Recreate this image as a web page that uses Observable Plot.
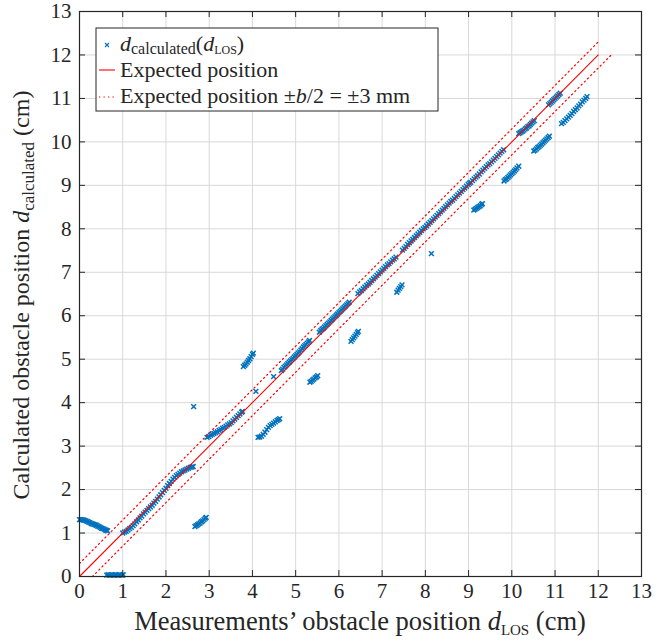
<!DOCTYPE html>
<html><head><meta charset="utf-8">
<script src="https://cdn.jsdelivr.net/npm/d3@7"></script>
<script src="https://cdn.jsdelivr.net/npm/@observablehq/plot@0.6"></script>
<style>
body{margin:0;background:#fff;}
#chart{width:670px;height:641px;}
</style></head><body><div id="chart"></div>
<script>
// ---- data (d_LOS, d_calculated) in cm ----
const leftTail = [[0.00,1.31],[0.03,1.31],[0.06,1.31],[0.09,1.30],[0.12,1.29],[0.15,1.28],[0.18,1.27],[0.21,1.25],[0.24,1.24],[0.27,1.22],[0.30,1.21],[0.33,1.20],[0.36,1.19],[0.39,1.18],[0.42,1.16],[0.45,1.15],[0.48,1.13],[0.51,1.11],[0.54,1.10],[0.57,1.09],[0.60,1.07],[0.63,1.06],[0.65,1.05]];
const zeroRun = [[0.63,0.03],[0.66,0.04],[0.69,0.03],[0.72,0.03],[0.75,0.04],[0.78,0.03],[0.81,0.03],[0.84,0.04],[0.87,0.03],[0.90,0.03],[0.93,0.04],[0.96,0.03],[0.99,0.03],[1.01,0.04]];
const run1 = [[1.00,1.00],[1.04,1.02],[1.08,1.04],[1.12,1.07],[1.16,1.10],[1.20,1.13],[1.24,1.17],[1.28,1.21],[1.32,1.26],[1.36,1.30],[1.40,1.35],[1.44,1.39],[1.48,1.44],[1.52,1.48],[1.56,1.52],[1.60,1.56],[1.64,1.60],[1.68,1.64],[1.72,1.69],[1.76,1.73],[1.80,1.78],[1.84,1.83],[1.88,1.88],[1.92,1.93],[1.96,1.98],[2.00,2.03],[2.04,2.09],[2.08,2.14],[2.12,2.19],[2.16,2.24],[2.20,2.28],[2.24,2.32],[2.28,2.35],[2.32,2.38],[2.36,2.41],[2.40,2.43],[2.44,2.45],[2.48,2.47],[2.52,2.49],[2.56,2.51],[2.60,2.52],[2.63,2.53]];
const off1 = [[2.67,1.15],[2.70,1.17],[2.73,1.19],[2.76,1.21],[2.79,1.23],[2.82,1.26],[2.85,1.28],[2.88,1.31],[2.91,1.34],[2.93,1.36]];
const single = [[2.64,3.91],[4.08,4.26],[4.49,4.60],[8.14,7.43]];
const run2 = [[2.95,3.20],[2.99,3.22],[3.03,3.25],[3.07,3.27],[3.11,3.29],[3.15,3.31],[3.19,3.33],[3.23,3.36],[3.27,3.38],[3.31,3.41],[3.35,3.43],[3.39,3.46],[3.43,3.49],[3.47,3.51],[3.51,3.54],[3.55,3.58],[3.59,3.62],[3.63,3.66],[3.67,3.70],[3.71,3.74],[3.75,3.78],[3.77,3.80]];
const off2 = [[3.79,4.83],[3.82,4.86],[3.85,4.89],[3.88,4.93],[3.91,4.97],[3.94,5.01],[3.97,5.06],[4.00,5.11],[4.02,5.14]];
const off3 = [[4.13,3.20],[4.17,3.21],[4.21,3.23],[4.25,3.27],[4.29,3.32],[4.33,3.38],[4.37,3.43],[4.41,3.47],[4.45,3.50],[4.49,3.53],[4.53,3.56],[4.57,3.59],[4.60,3.61],[4.63,3.63]];
const run3 = [[4.67,4.74],[4.70,4.77],[4.73,4.81],[4.76,4.84],[4.79,4.87],[4.82,4.90],[4.85,4.93],[4.88,4.96],[4.91,4.99],[4.94,5.02],[4.97,5.05],[5.00,5.08],[5.03,5.11],[5.06,5.14],[5.09,5.17],[5.12,5.21],[5.15,5.24],[5.18,5.28],[5.21,5.31],[5.24,5.34],[5.27,5.37],[5.30,5.40],[5.32,5.43]];
const off4 = [[5.33,4.47],[5.36,4.49],[5.39,4.52],[5.42,4.54],[5.45,4.57],[5.48,4.59],[5.51,4.62]];
const run4 = [[5.55,5.62],[5.58,5.66],[5.61,5.69],[5.64,5.71],[5.67,5.74],[5.70,5.77],[5.73,5.80],[5.76,5.83],[5.79,5.86],[5.82,5.89],[5.85,5.92],[5.88,5.95],[5.91,5.98],[5.94,6.01],[5.97,6.04],[6.00,6.07],[6.03,6.10],[6.06,6.13],[6.09,6.16],[6.12,6.19],[6.15,6.22],[6.18,6.25],[6.21,6.28],[6.24,6.31]];
const off5 = [[6.28,5.41],[6.31,5.45],[6.34,5.49],[6.37,5.53],[6.40,5.57],[6.43,5.61],[6.45,5.64]];
const run5 = [[6.44,6.51],[6.48,6.55],[6.52,6.58],[6.56,6.62],[6.60,6.66],[6.64,6.70],[6.68,6.73],[6.72,6.77],[6.76,6.81],[6.80,6.85],[6.84,6.89],[6.88,6.93],[6.92,6.97],[6.96,7.01],[7.00,7.05],[7.04,7.09],[7.08,7.13],[7.12,7.17],[7.16,7.20],[7.20,7.24],[7.24,7.28],[7.28,7.31],[7.32,7.35]];
const off6 = [[7.34,6.54],[7.37,6.59],[7.40,6.63],[7.43,6.67],[7.46,6.71]];
const run6 = [[7.47,7.51],[7.51,7.55],[7.55,7.59],[7.59,7.64],[7.63,7.68],[7.67,7.72],[7.71,7.76],[7.75,7.80],[7.79,7.84],[7.83,7.88],[7.87,7.92],[7.91,7.96],[7.95,8.00],[7.99,8.03],[8.03,8.07],[8.07,8.11],[8.11,8.15],[8.15,8.19],[8.19,8.23],[8.23,8.27],[8.27,8.31],[8.31,8.35],[8.35,8.39],[8.39,8.43],[8.43,8.47],[8.47,8.51],[8.51,8.55],[8.55,8.59],[8.59,8.63],[8.63,8.66],[8.67,8.70],[8.71,8.74],[8.75,8.78],[8.79,8.82],[8.83,8.86],[8.87,8.90],[8.91,8.94],[8.95,8.98],[8.99,9.02],[9.02,9.05]];
const off7 = [[9.12,8.43],[9.15,8.45],[9.18,8.47],[9.21,8.49],[9.24,8.51],[9.27,8.53],[9.30,8.56],[9.32,8.58]];
const run7 = [[9.05,9.07],[9.09,9.11],[9.13,9.15],[9.17,9.19],[9.21,9.22],[9.25,9.26],[9.29,9.31],[9.33,9.35],[9.37,9.39],[9.41,9.43],[9.45,9.47],[9.49,9.50],[9.53,9.54],[9.57,9.58],[9.61,9.62],[9.65,9.66],[9.69,9.70],[9.73,9.74],[9.77,9.78],[9.81,9.82]];
const off8 = [[9.82,9.10],[9.85,9.13],[9.88,9.15],[9.91,9.18],[9.94,9.21],[9.97,9.24],[10.00,9.27],[10.03,9.30],[10.06,9.33],[10.09,9.36],[10.12,9.40],[10.16,9.44]];
const run8 = [[10.16,10.19],[10.19,10.21],[10.22,10.23],[10.25,10.25],[10.28,10.27],[10.31,10.30],[10.34,10.32],[10.37,10.35],[10.40,10.37],[10.43,10.40],[10.46,10.43],[10.49,10.46],[10.52,10.49]];
const off9 = [[10.51,9.79],[10.54,9.81],[10.57,9.84],[10.60,9.87],[10.63,9.89],[10.66,9.92],[10.69,9.95],[10.72,9.98],[10.75,10.01],[10.78,10.04],[10.81,10.07],[10.84,10.10],[10.87,10.13]];
const run9 = [[10.85,10.85],[10.88,10.88],[10.91,10.91],[10.94,10.94],[10.97,10.97],[11.00,11.00],[11.03,11.03],[11.06,11.06],[11.09,11.09],[11.12,11.12]];
const off10 = [[11.15,10.42],[11.19,10.45],[11.23,10.49],[11.27,10.53],[11.31,10.57],[11.35,10.61],[11.39,10.65],[11.43,10.70],[11.47,10.74],[11.51,10.78],[11.55,10.83],[11.59,10.87],[11.63,10.92],[11.67,10.96],[11.71,11.00],[11.74,11.04]];

// expected position line and tolerance band (b/2 = 3 mm = 0.3 cm)
const expectedRange = [0, 12];
const halfWidth = 0.3;
const axisTicks = [0,1,2,3,4,5,6,7,8,9,10,11,12,13];

const segments = [leftTail, zeroRun, run1, off1, single, run2, off2, off3, run3, off4, run4, off5, run5, off6, run6, off7, run7, off8, run8, off9, run9, off10];
const points = segments.flat().map(([x, y]) => ({x, y}));

const expected = expectedRange.map(v => ({x: v, y: v}));
const upper = expectedRange.map(v => ({x: v, y: v + halfWidth}));
const lower = expectedRange.map(v => ({x: v + halfWidth, y: v}));

const W = 670, H = 641, mL = 79, mR = 29, mT = 11, mB = 65;
const iW = W - mL - mR, iH = H - mT - mB;
const BLUE = "#0072BD", RED = "#FF0000", INK = "#262626", GRID = "#d9d9d9";
const FONT = "'Liberation Serif', 'DejaVu Serif', serif";

const chart = Plot.plot({
  width: W, height: H,
  marginLeft: mL, marginRight: mR, marginTop: mT, marginBottom: mB,
  style: {fontFamily: FONT, fontSize: "21px", color: INK, background: "#fff"},
  x: {domain: [0, 13]},
  y: {domain: [0, 13]},
  marks: [
    Plot.gridX(axisTicks, {stroke: GRID, strokeOpacity: 1, strokeWidth: 1}),
    Plot.gridY(axisTicks, {stroke: GRID, strokeOpacity: 1, strokeWidth: 1}),
    Plot.dot(points, {x: "x", y: "y", symbol: "times", r: 2.3, stroke: BLUE, strokeWidth: 1.5}),
    Plot.line(expected, {x: "x", y: "y", stroke: RED, strokeWidth: 1.1}),
    Plot.line(upper, {x: "x", y: "y", stroke: RED, strokeWidth: 1.2, strokeDasharray: "1.3,3.2"}),
    Plot.line(lower, {x: "x", y: "y", stroke: RED, strokeWidth: 1.2, strokeDasharray: "1.3,3.2"}),
    // inward tick marks on all four sides
    Plot.tickX(axisTicks, {x: d => d, insetTop: iH - 6, stroke: INK}),
    Plot.tickX(axisTicks, {x: d => d, insetBottom: iH - 6, stroke: INK}),
    Plot.tickY(axisTicks, {y: d => d, insetRight: iW - 6, stroke: INK}),
    Plot.tickY(axisTicks, {y: d => d, insetLeft: iW - 6, stroke: INK}),
    Plot.frame({stroke: INK, strokeWidth: 1.2}),
    Plot.axisX(axisTicks, {tickSize: 0, tickPadding: 7, fontSize: 21, label: null, fill: INK}),
    Plot.axisY(axisTicks, {tickSize: 0, tickPadding: 8, fontSize: 21, label: null, fill: INK})
  ]
});
document.getElementById("chart").appendChild(chart);

const svg = d3.select(chart);
const ns = (sel, parts) => {
  parts.forEach(p => {
    const t = sel.append("tspan").text(p.t);
    if (p.i) t.attr("font-style", "italic");
    if (p.s) t.attr("font-size", p.s);
    if (p.dy) t.attr("dy", p.dy);
  });
};

// axis labels
const xl = svg.append("text").attr("x", 360).attr("y", 630).attr("text-anchor", "middle")
  .attr("font-family", FONT).attr("font-size", 26.5).attr("fill", INK);
ns(xl, [{t: "Measurements\u2019 obstacle position "}, {t: "d", i: 1}, {t: "LOS", s: 15, dy: 5}, {t: " (cm)", dy: -5}]);

const yl = svg.append("text").attr("transform", "translate(29,295) rotate(-90)").attr("text-anchor", "middle")
  .attr("font-family", FONT).attr("font-size", 24).attr("fill", INK);
ns(yl, [{t: "Calculated obstacle position "}, {t: "d", i: 1}, {t: "calculated", s: 17, dy: 5}, {t: " (cm)", dy: -5}]);

// legend
const lg = svg.append("g").attr("font-family", FONT).attr("font-size", 22).attr("fill", INK).attr("text-anchor", "start");
lg.append("rect").attr("x", 96).attr("y", 28).attr("width", 342).attr("height", 83)
  .attr("fill", "#fff").attr("stroke", INK).attr("stroke-width", 1);
lg.append("path").attr("d", "M105,43L109,47M109,43L105,47").attr("stroke", BLUE).attr("stroke-width", 1.1);
const t1 = lg.append("text").attr("x", 120).attr("y", 51);
ns(t1, [{t: "d", i: 1}, {t: "calculated", s: 16, dy: 3}, {t: "(", dy: -3}, {t: "d", i: 1}, {t: "LOS", s: 12, dy: 3}, {t: ")", dy: -3}]);
lg.append("line").attr("x1", 99).attr("x2", 115).attr("y1", 70).attr("y2", 70).attr("stroke", RED).attr("stroke-width", 1.1);
lg.append("text").attr("x", 120).attr("y", 77).text("Expected position");
lg.append("line").attr("x1", 99).attr("x2", 115).attr("y1", 97).attr("y2", 97).attr("stroke", RED).attr("stroke-width", 1.2).attr("stroke-dasharray", "1.3,3.2");
const t3 = lg.append("text").attr("x", 120).attr("y", 103);
ns(t3, [{t: "Expected position \u00B1"}, {t: "b", i: 1}, {t: "/2 = \u00B13 mm"}]);
</script></body></html>
